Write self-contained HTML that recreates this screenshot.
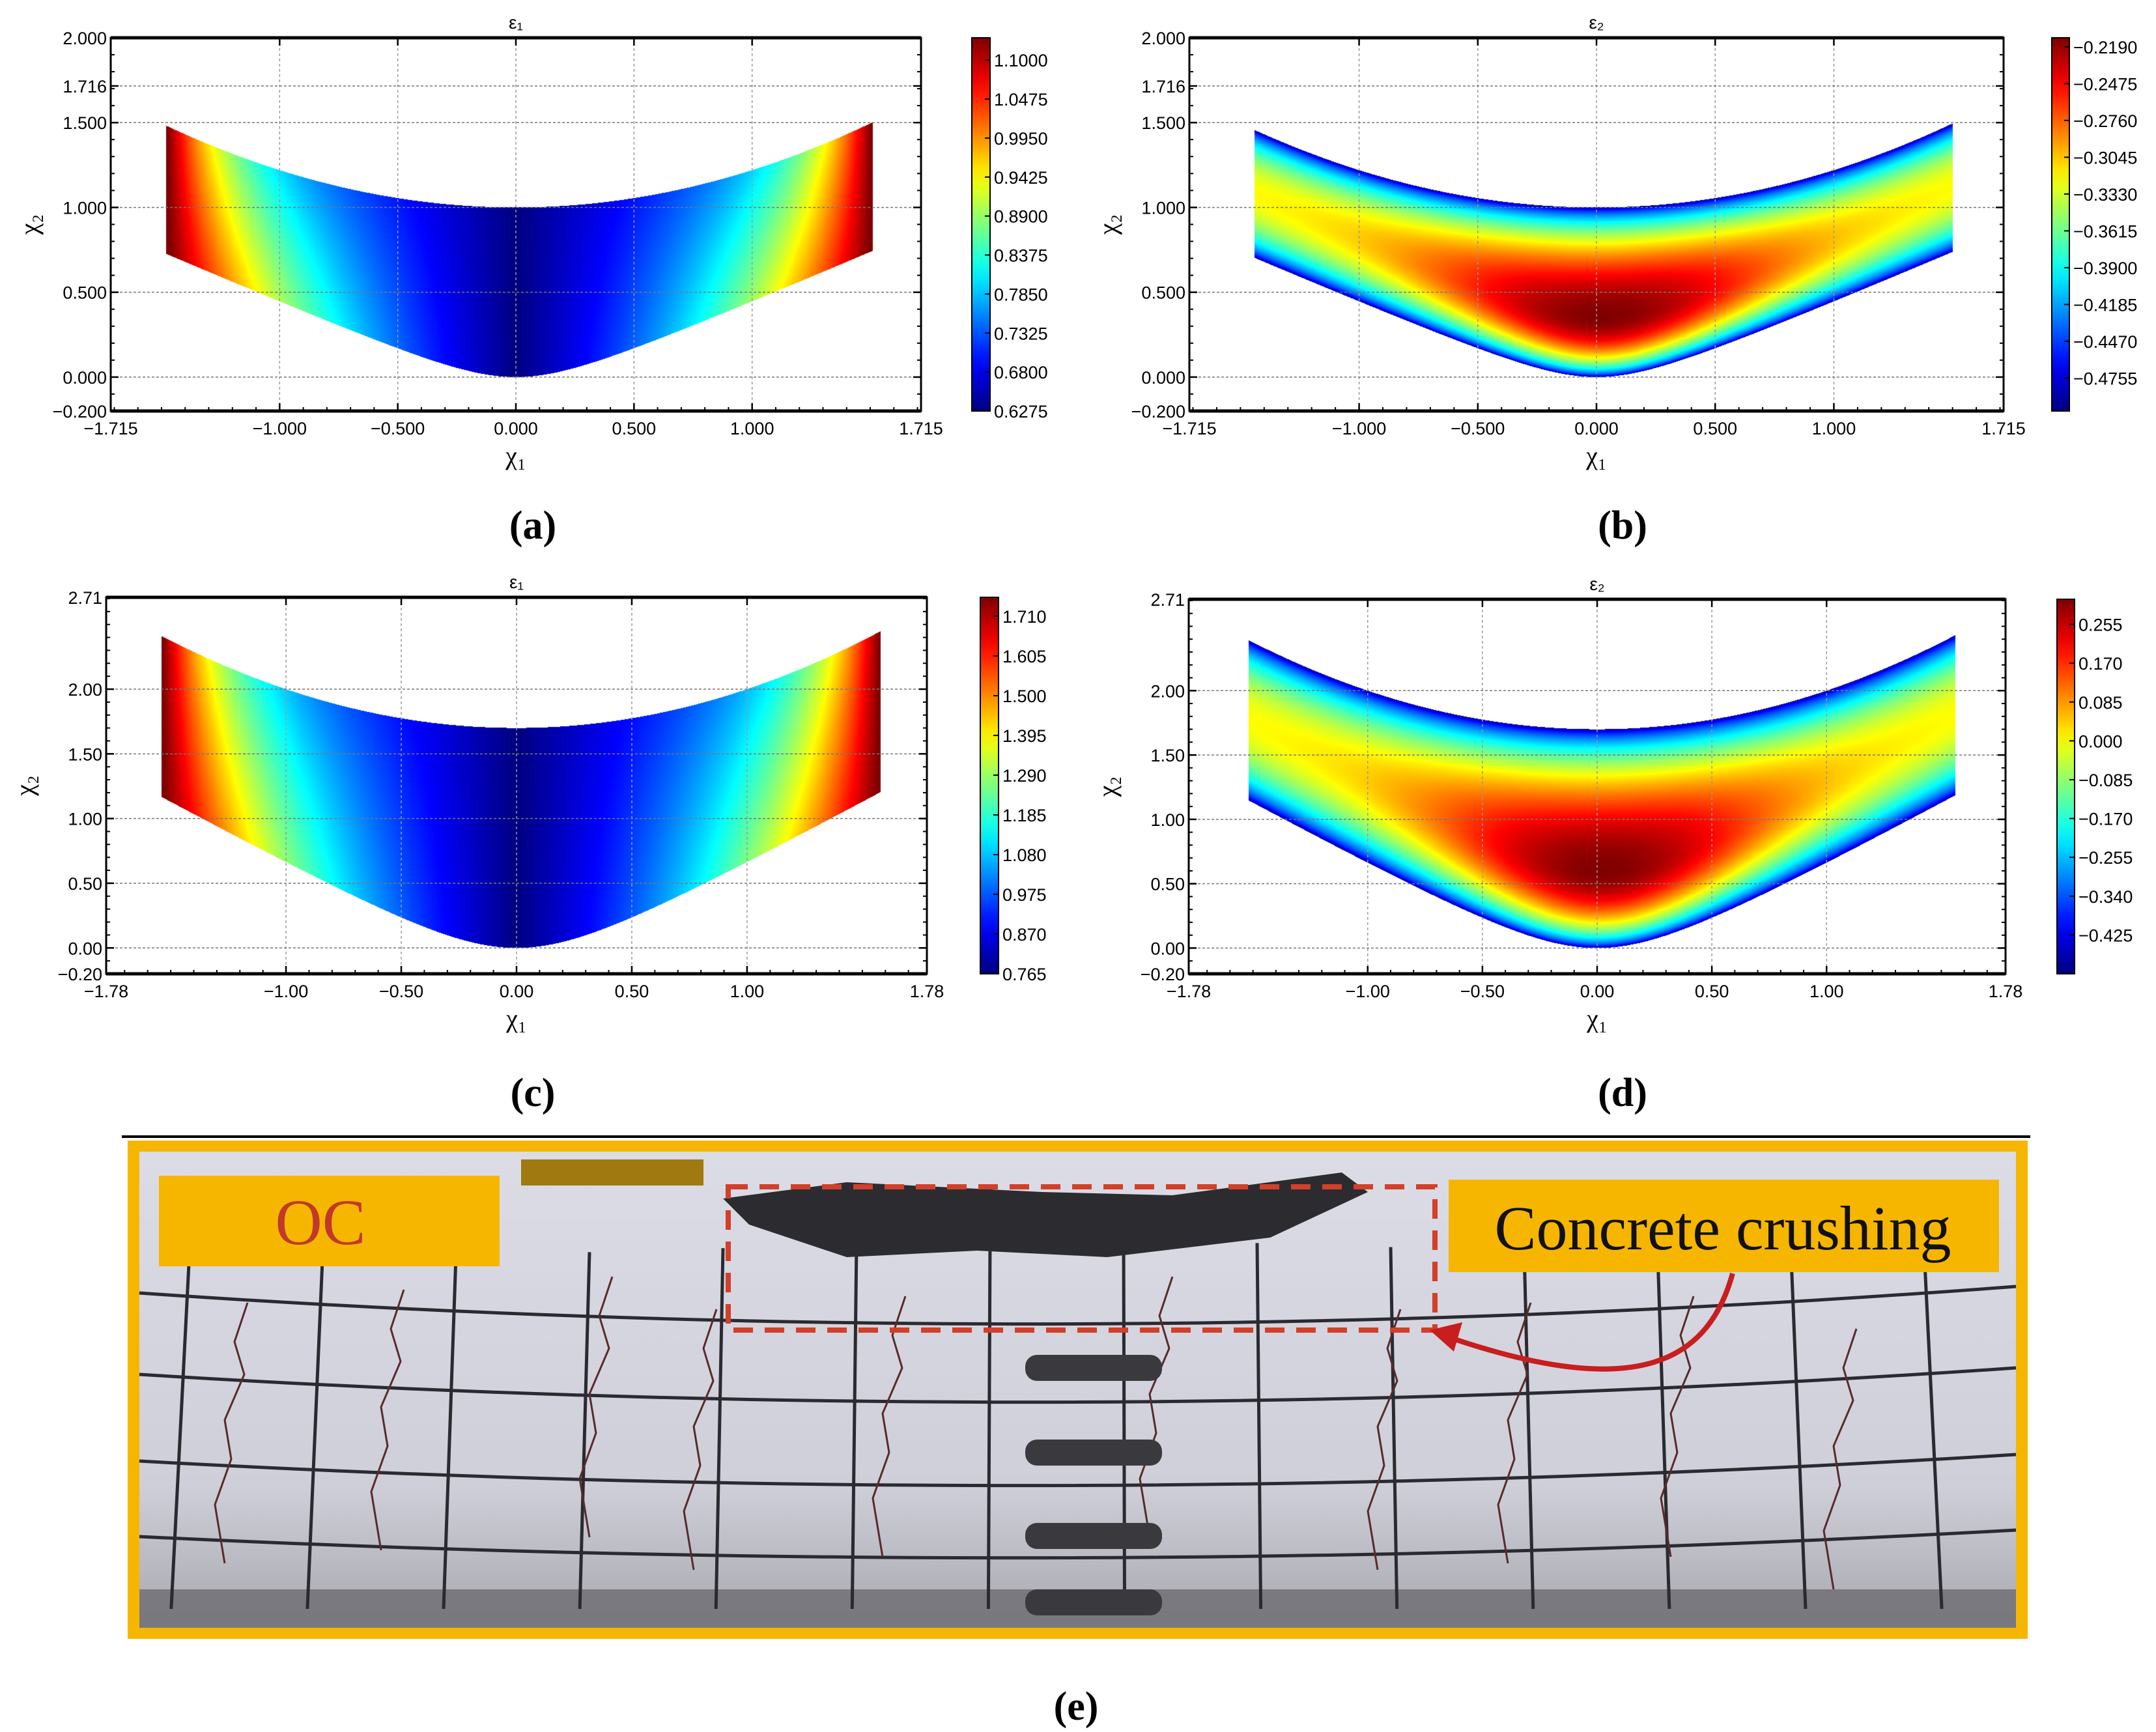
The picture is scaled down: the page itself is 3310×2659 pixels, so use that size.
<!DOCTYPE html>
<html><head><meta charset="utf-8">
<style>
html,body{margin:0;padding:0;background:#fff;}
#root{position:relative;width:3310px;height:2659px;overflow:hidden;background:#fff;font-family:"Liberation Sans",sans-serif;}
canvas{position:absolute;left:0;top:0;}
svg{position:absolute;left:0;top:0;}
.lab{position:absolute;font-family:"Liberation Serif",serif;font-weight:bold;font-size:62px;color:#000;transform:translateX(-50%);}
</style></head>
<body>
<div id="root">
<canvas id="heat" width="3310" height="1700"></canvas>
<svg id="axes" width="3310" height="1700"></svg>
<div class="lab" style="left:818px;top:772px">(a)</div>
<div class="lab" style="left:2491px;top:772px">(b)</div>
<div class="lab" style="left:818px;top:1643px">(c)</div>
<div class="lab" style="left:2491px;top:1643px">(d)</div>
<div class="lab" style="left:1652px;top:2585px">(e)</div>

<svg width="3310" height="2659" style="top:0;left:0">
  <line x1="187" y1="1745" x2="3117" y2="1745" stroke="#000" stroke-width="4"/>
  <defs>
    <linearGradient id="wall" x1="0" y1="0" x2="0" y2="1">
      <stop offset="0" stop-color="#dcdce6"/><stop offset="0.7" stop-color="#cfcfd9"/><stop offset="1" stop-color="#a8a8b0"/>
    </linearGradient>
  </defs>
  <rect x="196" y="1751" width="2917" height="765" fill="#f6b600"/>
  <rect x="214" y="1768" width="2881" height="731" fill="url(#wall)"/>
  <rect x="214" y="2440" width="2881" height="59" fill="#6b6b70" opacity="0.8"/>
  <g id="grid" stroke="#2a2a30" stroke-width="5" fill="none"></g>
  <g id="cracks" stroke="#5a2a2a" stroke-width="3" fill="none"></g>
  <path d="M1110 1840 L1300 1815 L1600 1830 L1800 1835 L2060 1800 L2100 1830 L1950 1900 L1700 1930 L1500 1920 L1300 1930 L1150 1880 Z" fill="#2c2c30"/>
  <rect x="800" y="1780" width="280" height="40" fill="#a07a10"/>
  <g fill="#3a3a3e">
    <rect x="1574" y="2080" width="210" height="40" rx="18"/>
    <rect x="1574" y="2210" width="210" height="40" rx="18"/>
    <rect x="1574" y="2338" width="210" height="40" rx="18"/>
    <rect x="1574" y="2440" width="210" height="40" rx="18"/>
  </g>
  <rect x="1118" y="1822" width="1085" height="220" fill="none" stroke="#d0402a" stroke-width="8" stroke-dasharray="30,18"/>
  <path d="M2660 1955 C2620 2100 2500 2150 2210 2048" fill="none" stroke="#c81e1e" stroke-width="8"/>
  <polygon points="2195,2042 2245,2030 2232,2075" fill="#c81e1e"/>
  <rect x="244" y="1805" width="523" height="139" fill="#f6b600"/>
  <text x="492" y="1910" text-anchor="middle" font-family="Liberation Serif,serif" font-size="100" fill="#c0392b">OC</text>
  <rect x="2224" y="1811" width="845" height="142" fill="#f6b600"/>
  <text x="2645" y="1918" text-anchor="middle" font-family="Liberation Serif,serif" font-size="96" fill="#111">Concrete crushing</text>
</svg>
</div>
<script>
// tick / colorbar data
const xTicksA = [-1.715,-1.0,-0.5,0,0.5,1.0,1.715];
const yTicksA = [-0.2,0,0.5,1.0,1.5,1.716,2.0];
const xTicksC = [-1.78,-1.0,-0.5,0,0.5,1.0,1.78];
const yTicksC = [-0.2,0,0.5,1.0,1.5,2.0,2.71];
const cbTicksA = [0.6275,0.6800,0.7325,0.7850,0.8375,0.8900,0.9425,0.9950,1.0475,1.1000];
const cbTicksB = [-0.4755,-0.4470,-0.4185,-0.3900,-0.3615,-0.3330,-0.3045,-0.2760,-0.2475,-0.2190];
const cbTicksC = [0.765,0.870,0.975,1.080,1.185,1.290,1.395,1.500,1.605,1.710];
const cbTicksD = [-0.425,-0.340,-0.255,-0.170,-0.085,0.000,0.085,0.170,0.255];
const cbRangeA = [0.6275,1.13];
const cbRangeB = [-0.501,-0.212];
const cbRangeC = [0.765,1.76];
const cbRangeD = [-0.51,0.31];

const panels = [
 {id:'a',box:[170,58,1414,631],xr:[-1.715,1.715],yr:[-0.2,2.0],xt:xTicksA,yt:yTicksA,xd:3,yd:3,
  shape:{xl:-1.48,xr:1.51,t0:1.0,t2:0.22,k:0.6,a:0.3},kind:1,title:'ε₁',cb:[1492,28],cbt:cbTicksA,cbr:cbRangeA,cbd:4},
 {id:'b',box:[1826,58,3076,631],xr:[-1.715,1.715],yr:[-0.2,2.0],xt:xTicksA,yt:yTicksA,xd:3,yd:3,
  shape:{xl:-1.44,xr:1.50,t0:1.0,t2:0.22,k:0.6,a:0.3},kind:2,title:'ε₂',cb:[3150,27],cbt:cbTicksB,cbr:cbRangeB,cbd:4},
 {id:'c',box:[163,917,1423,1495],xr:[-1.78,1.78],yr:[-0.2,2.71],xt:xTicksC,yt:yTicksC,xd:2,yd:2,
  shape:{xl:-1.54,xr:1.58,t0:1.7,t2:0.3,k:0.98,a:0.4},kind:1,title:'ε₁',cb:[1505,28],cbt:cbTicksC,cbr:cbRangeC,cbd:3},
 {id:'d',box:[1825,920,3079,1495],xr:[-1.78,1.78],yr:[-0.2,2.71],xt:xTicksC,yt:yTicksC,xd:2,yd:2,
  shape:{xl:-1.52,xr:1.56,t0:1.7,t2:0.3,k:0.98,a:0.4},kind:2,title:'ε₂',cb:[3158,27],cbt:cbTicksD,cbr:cbRangeD,cbd:3}
];

function jet(v){v=Math.max(0,Math.min(1,v));
 const c=t=>Math.max(0,Math.min(1,t));
 return [c(1.5-Math.abs(4*v-3))*255,c(1.5-Math.abs(4*v-2))*255,c(1.5-Math.abs(4*v-1))*255];}

const ctx=document.getElementById('heat').getContext('2d');
const svg=document.getElementById('axes');
const NS='http://www.w3.org/2000/svg';
function el(tag,attrs,parent){const e=document.createElementNS(NS,tag);for(const k in attrs)e.setAttribute(k,attrs[k]);(parent||svg).appendChild(e);return e;}
function fmt(v,d){const s=Math.abs(v).toFixed(d);return (v<0?'−':'')+s;}

panels.forEach(p=>{
 const [x0,y0,x1,y1]=p.box;
 const sx=v=>x0+(v-p.xr[0])/(p.xr[1]-p.xr[0])*(x1-x0);
 const sy=v=>y1-(v-p.yr[0])/(p.yr[1]-p.yr[0])*(y1-y0);
 const S=p.shape;
 const top=x=>S.t0+S.t2*x*x, bot=x=>S.k*(Math.sqrt(x*x+S.a*S.a)-S.a);
 const W=x1-x0,H=y1-y0;const img=ctx.createImageData(W,H);
 for(let i=0;i<W;i++){const x=p.xr[0]+(i+0.5)/W*(p.xr[1]-p.xr[0]);
  if(x<S.xl||x>S.xr)continue;const tp=top(x),bt=bot(x);
  for(let j=0;j<H;j++){const y=p.yr[1]-(j+0.5)/H*(p.yr[1]-p.yr[0]);
   if(y>tp||y<bt)continue;const t=(y-bt)/(tp-bt);let v;
   if(p.kind===1){const u=x<0?-x/(-S.xl):x/S.xr;
    const vb=0.62*u+0.38*u*u*u, vt=0.42*u+0.58*Math.pow(u,6);
    v=((1-t)*vb+t*vt)*1.02;}
   else{const g=Math.exp(-((x-0.03)*(x-0.03))/0.55);const c=0.5-0.15*g;
    const tt=t<c?t/c*0.5:0.5+(t-c)/(1-c)*0.5;
    const s=Math.pow(Math.sin(Math.PI*tt),0.55);
    v=s*(0.62+0.38*g*Math.exp(-Math.pow((tt-0.5)*2,2)*0.5));}
   const col=jet(v);const k=(j*W+i)*4;img.data[k]=col[0];img.data[k+1]=col[1];img.data[k+2]=col[2];img.data[k+3]=255;}}
 ctx.putImageData(img,x0,y0);
 p.xt.forEach(v=>{const g=el('line',{x1:sx(v),x2:sx(v),y1:y0,y2:y1,stroke:'#999','stroke-width':1.5,'stroke-dasharray':'4,4'});
  });
 p.yt.forEach(v=>{const g=el('line',{x1:x0,x2:x1,y1:sy(v),y2:sy(v),stroke:'#777','stroke-width':1.5,'stroke-dasharray':'4,3'});
  });
 const fr=el('rect',{x:x0,y:y0,width:W,height:H,fill:'none',stroke:'#000','stroke-width':3});
 
 el('line',{x1:x0,x2:x1,y1:y0,y2:y0,stroke:'#000','stroke-width':5});
 el('line',{x1:x0,x2:x1,y1:y1,y2:y1,stroke:'#000','stroke-width':5});
 p.xt.forEach(v=>{el('line',{x1:sx(v),x2:sx(v),y1:y1,y2:y1-12,stroke:'#000','stroke-width':2.5});
  el('line',{x1:sx(v),x2:sx(v),y1:y0,y2:y0+12,stroke:'#000','stroke-width':2.5});
  const t=el('text',{x:sx(v),y:y1+36,'text-anchor':'middle','font-size':27,fill:'#000'});t.textContent=fmt(v,p.xd);
  });
 for(let v=Math.ceil(p.xr[0]/0.1)*0.1;v<p.xr[1];v+=0.1){el('line',{x1:sx(v),x2:sx(v),y1:y1,y2:y1-6,stroke:'#000','stroke-width':2});}
 p.yt.forEach(v=>{el('line',{x1:x0,x2:x0+12,y1:sy(v),y2:sy(v),stroke:'#000','stroke-width':2.5});
  el('line',{x1:x1,x2:x1-12,y1:sy(v),y2:sy(v),stroke:'#000','stroke-width':2.5});
  const t=el('text',{x:x0-6,y:sy(v)+10,'text-anchor':'end','font-size':27,fill:'#000'});t.textContent=fmt(v,p.yd);
  });
 for(let v=Math.ceil(p.yr[0]/0.1)*0.1;v<p.yr[1];v+=0.1){el('line',{x1:x0,x2:x0+6,y1:sy(v),y2:sy(v),stroke:'#000','stroke-width':2});el('line',{x1:x1,x2:x1-6,y1:sy(v),y2:sy(v),stroke:'#000','stroke-width':2});}
 const tt=el('text',{x:(x0+x1)/2,y:y0-14,'text-anchor':'middle','font-size':28,fill:'#000'});tt.textContent=p.title;
 
 const xl=el('text',{x:(x0+x1)/2,y:y1+82,'text-anchor':'middle','font-size':40,'font-family':'Liberation Serif,serif',fill:'#000'});xl.textContent='χ₁';
 
 const yl=el('text',{x:0,y:0,'text-anchor':'middle','font-size':40,'font-family':'Liberation Serif,serif',fill:'#000',transform:`translate(${x0-112},${(y0+y1)/2}) rotate(-90)`});yl.textContent='χ₂';
 
 const [cx,cw]=p.cb;const [c0,c1]=p.cbr;
 const cy=v=>y1-(v-c0)/(c1-c0)*H;
 const grd=ctx.createLinearGradient(0,y1,0,y0);
 for(let k=0;k<=20;k++){const c=jet(k/20);grd.addColorStop(k/20,`rgb(${c[0]|0},${c[1]|0},${c[2]|0})`);}
 ctx.fillStyle=grd;ctx.fillRect(cx,y0,cw,H);
 const cr=el('rect',{x:cx,y:y0,width:cw,height:H,fill:'none',stroke:'#000','stroke-width':2});
 
 p.cbt.forEach(v=>{el('line',{x1:cx+cw-8,x2:cx+cw,y1:cy(v),y2:cy(v),stroke:'#000','stroke-width':2});
  const t=el('text',{x:cx+cw+6,y:cy(v)+10,'font-size':27,fill:'#000'});t.textContent=fmt(v,p.cbd);
  });
});

const grid=document.getElementById('grid');
for(let x=290;x<3090;x+=205){const l=document.createElementNS(NS,'path');
 l.setAttribute('d',`M${x} ${1900+Math.abs(x-1650)*0.03} L${x+(x-1650)*0.02} 2470`);grid.appendChild(l);}
[2045,2160,2283,2389].forEach((y,i)=>{const l=document.createElementNS(NS,'path');
 l.setAttribute('d',`M214 ${y-60+i*10} Q1650 ${y+40} 3095 ${y-70+i*10}`);grid.appendChild(l);});
const cr=document.getElementById('cracks');
[[380,2000],[620,1980],[940,1960],[1100,2010],[1390,1990],[1800,1960],[2150,2010],[2350,2000],[2600,1990],[2850,2040]].forEach(([x,y],i)=>{
 const l=document.createElementNS(NS,'path');
 l.setAttribute('d',`M${x} ${y} l-20 60 l15 50 l-30 70 l10 60 l-25 70 l15 90`);cr.appendChild(l);});
</script>
</body></html>
